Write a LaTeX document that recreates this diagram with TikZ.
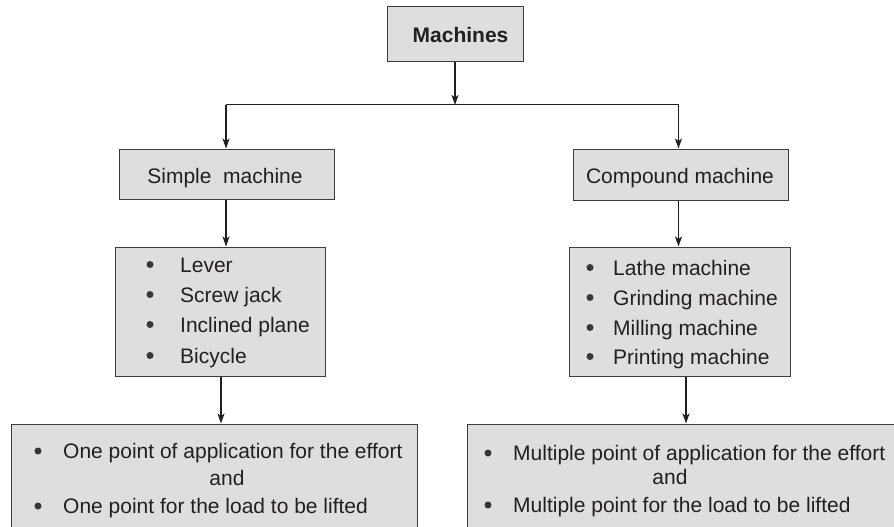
\documentclass[tikz,border=0pt]{standalone}
\usepackage{fontspec}
\setmainfont{Liberation Sans}
\usetikzlibrary{arrows.meta}
\definecolor{boxfill}{HTML}{DEDEDE}
\definecolor{boxline}{HTML}{3C3C3C}
\definecolor{ink}{HTML}{231F20}
\tikzset{
  box/.style={draw=boxline, fill=boxfill, line width=1pt, rectangle, inner sep=0pt},
  txt/.style={inner sep=0pt, text=ink, font=\fontsize{21}{25}\selectfont},
  bul/.style={circle, fill=ink!90, inner sep=0pt, minimum size=7pt},
  arr/.style={draw=ink, line width=1.5pt, -{Stealth[length=10pt,width=7pt,inset=2.5pt]}},
  conn/.style={draw=ink, line width=1.5pt}
}
\begin{document}
\begin{tikzpicture}[x=1pt,y=-1pt]
\useasboundingbox (0,0) rectangle (894,527);
% boxes
\node[box, minimum width=136pt, minimum height=55pt] (machines) at (455,34.5) {};
\node[box, minimum width=215pt, minimum height=50pt] (simple) at (226.5,174) {};
\node[box, minimum width=215pt, minimum height=51pt] (compound) at (680.5,174.5) {};
\node[box, minimum width=210pt, minimum height=129pt] (llist) at (220,311.5) {};
\node[box, minimum width=221pt, minimum height=129pt] (rlist) at (679.5,311.5) {};
\node[box, minimum width=406pt, minimum height=120pt] (lbot) at (214,484) {};
\node[box, minimum width=443pt, minimum height=120pt] (rbot) at (688.5,484) {};
% texts
\node[txt, anchor=base, font=\fontsize{21}{25}\selectfont\bfseries] (tmach) at (460.5,43) {Machines};
\node[txt, anchor=base] (tsimple) at (225,183) {Simple~ machine};
\node[txt, anchor=base] (tcomp) at (680,183) {Compound machine};
% left list
\node[bul] (lb1) at (150,264.5) {};
\node[bul] (lb2) at (150,294.5) {};
\node[bul] (lb3) at (150,324.5) {};
\node[bul] (lb4) at (150,355.5) {};
\node[txt, anchor=base west] (lt1) at (180,272) {Lever};
\node[txt, anchor=base west] (lt2) at (180,302) {Screw jack};
\node[txt, anchor=base west] (lt3) at (180,332) {Inclined plane};
\node[txt, anchor=base west] (lt4) at (180,363) {Bicycle};
% right list
\node[bul] (rb1) at (590,267.5) {};
\node[bul] (rb2) at (590,297.5) {};
\node[bul] (rb3) at (590,327.5) {};
\node[bul] (rb4) at (590,356.5) {};
\node[txt, anchor=base west] (rt1) at (613,275) {Lathe machine};
\node[txt, anchor=base west] (rt2) at (613,305) {Grinding machine};
\node[txt, anchor=base west] (rt3) at (613,335) {Milling machine};
\node[txt, anchor=base west] (rt4) at (613,364) {Printing machine};
% bottom left
\node[bul] (lbb1) at (38,451) {};
\node[bul] (lbb2) at (38,506) {};
\node[txt, anchor=base west] (lbt1) at (63,458) {One point of application for the effort};
\node[txt, anchor=base] (lband) at (227,485) {and};
\node[txt, anchor=base west] (lbt2) at (63,513) {One point for the load to be lifted};
% bottom right
\node[bul] (rbb1) at (488,453) {};
\node[bul] (rbb2) at (488,505) {};
\node[txt, anchor=base west] (rbt1) at (513,460) {Multiple point of application for the effort};
\node[txt, anchor=base] (rband) at (670,484) {and};
\node[txt, anchor=base west] (rbt2) at (513,512) {Multiple point for the load to be lifted};
% connectors
\coordinate (jm) at (455,105);
\coordinate (jl) at (226,105);
\coordinate (jr) at (678.5,105);
\draw[arr] (machines.south) -- (jm);
\draw[conn] ([yshift=0.75pt]jl) -- ([yshift=0.75pt]jr);
\draw[arr] (jl) -- (jl |- simple.north);
\draw[arr] (jr) -- (jr |- compound.north);
\draw[arr] ([xshift=-0.5pt]simple.south) -- ([xshift=-0.5pt]simple.south |- llist.north);
\draw[arr] ([xshift=1pt]llist.south) -- ([xshift=1pt]llist.south |- lbot.north);
\draw[arr] ([xshift=-2pt]compound.south) -- ([xshift=-2pt]compound.south |- rlist.north);
\draw[arr] ([xshift=6.5pt]rlist.south) -- ([xshift=6.5pt]rlist.south |- rbot.north);
\end{tikzpicture}
\end{document}
